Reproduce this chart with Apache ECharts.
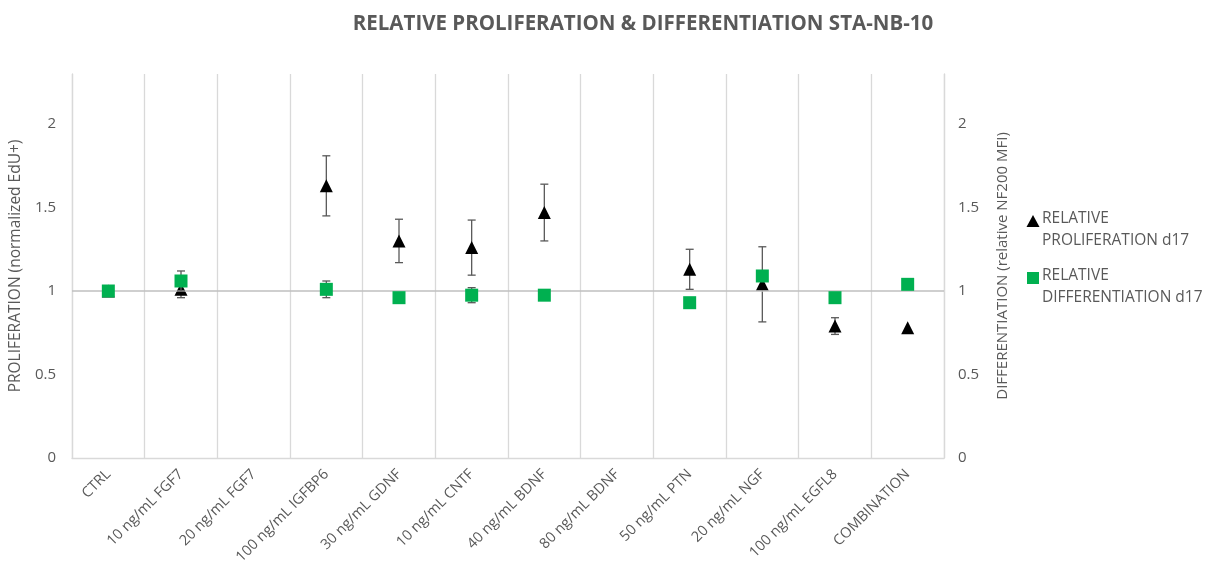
<!DOCTYPE html>
<html>
<head>
<meta charset="utf-8">
<script src="https://cdn.jsdelivr.net/npm/echarts@6/dist/echarts.min.js"></script>
<style>html,body{margin:0;padding:0;background:#fff}#c{width:1208px;height:567px}</style>
</head>
<body>
<div id="c"></div>
<script>
var categories = ['CTRL','10 ng/mL FGF7','20 ng/mL FGF7','100 ng/mL IGFBP6','30 ng/mL GDNF','10 ng/mL CNTF','40 ng/mL BDNF','80 ng/mL BDNF','50 ng/mL PTN','20 ng/mL NGF','100 ng/mL EGFL8','COMBINATION'];
var proliferation = [1.0, 1.01, null, 1.63, 1.30, 1.26, 1.47, null, 1.13, 1.04, 0.79, 0.78];
var proliferationErr = [0, 0.05, null, 0.18, 0.13, 0.165, 0.17, null, 0.12, 0.225, 0.05, 0];
var differentiation = [1.0, 1.06, null, 1.01, 0.96, 0.975, 0.975, null, 0.93, 1.09, 0.96, 1.04];
var differentiationErr = [0, 0.06, null, 0.05, 0, 0.045, 0, null, 0, 0, 0, 0];
var yTicks = [0, 0.5, 1, 1.5, 2];
var legendNames = ['RELATIVE\nPROLIFERATION d17', 'RELATIVE\nDIFFERENTIATION d17'];

var textColor = '#595959';
var font = 'Open Sans';

function errData(vals, errs) {
  var out = [];
  for (var i = 0; i < vals.length; i++) {
    if (vals[i] != null && errs[i]) out.push([i, vals[i] - errs[i], vals[i] + errs[i]]);
  }
  return out;
}
function errRender(params, api) {
  var x = api.value(0);
  var lo = api.coord([x, api.value(1)]);
  var hi = api.coord([x, api.value(2)]);
  var cw = 4;
  var st = {stroke: '#595959', lineWidth: 1.3};
  return {type: 'group', children: [
    {type: 'line', shape: {x1: lo[0], y1: lo[1], x2: hi[0], y2: hi[1]}, style: st},
    {type: 'line', shape: {x1: lo[0]-cw, y1: lo[1], x2: lo[0]+cw, y2: lo[1]}, style: st},
    {type: 'line', shape: {x1: hi[0]-cw, y1: hi[1], x2: hi[0]+cw, y2: hi[1]}, style: st}
  ]};
}

var chart = echarts.init(document.getElementById('c'));
chart.setOption({
  animation: false,
  textStyle: {fontFamily: font},
  title: {
    text: 'RELATIVE PROLIFERATION & DIFFERENTIATION STA-NB-10',
    left: 638, textAlign: 'center', top: 9,
    textStyle: {fontFamily: font, fontSize: 20.5, fontWeight: 'bold', color: textColor}
  },
  grid: {left: 68, right: 264, top: 74, bottom: 109},
  graphic: [
    {type: 'polygon', shape: {points: [[1033, 215], [1039.5, 227], [1026.5, 227]]}, style: {fill: '#000'}},
    {type: 'text', left: 1042, top: 208, style: {text: legendNames[0], fill: textColor, font: '15.5px "Open Sans"', lineHeight: 22}},
    {type: 'rect', shape: {x: 1027, y: 272, width: 12, height: 12}, style: {fill: '#00b050'}},
    {type: 'text', left: 1042, top: 265, style: {text: legendNames[1], fill: textColor, font: '15.5px "Open Sans"', lineHeight: 22}}
  ],
  xAxis: {
    type: 'category', data: categories, boundaryGap: true,
    axisLine: {show: true, lineStyle: {color: '#d9d9d9', width: 1.3}},
    axisTick: {show: false},
    splitLine: {show: true, interval: 0, lineStyle: {color: '#d9d9d9', width: 1.3}},
    axisLabel: {interval: 0, rotate: 45, color: textColor, fontSize: 14.5, margin: 14, fontFamily: font}
  },
  yAxis: [{
    type: 'value', min: 0, max: 2.3, interval: 0.5,
    name: 'PROLIFERATION (normalized EdU+)', nameLocation: 'middle', nameGap: 48,
    nameTextStyle: {color: textColor, fontSize: 15.5, fontFamily: font},
    axisLine: {show: true, lineStyle: {color: '#d9d9d9', width: 1.3}},
    axisTick: {show: false}, splitLine: {show: false},
    axisLabel: {color: textColor, fontSize: 15, margin: 16, showMaxLabel: false,
      formatter: function (v) { return yTicks.indexOf(v) >= 0 ? String(v) : ''; }}
  }, {
    type: 'value', min: 0, max: 2.3, interval: 0.5, position: 'right',
    name: 'DIFFERENTIATION (relative NF200 MFI)', nameLocation: 'middle', nameGap: 51, nameRotate: 90,
    nameTextStyle: {color: textColor, fontSize: 15, fontFamily: font},
    axisLine: {show: true, lineStyle: {color: '#d9d9d9', width: 1.3}},
    axisTick: {show: false}, splitLine: {show: false},
    axisLabel: {color: textColor, fontSize: 15, margin: 14, showMaxLabel: false,
      formatter: function (v) { return yTicks.indexOf(v) >= 0 ? String(v) : ''; }}
  }],
  series: [
    {
      type: 'custom', name: 'errP', yAxisIndex: 0, renderItem: errRender, z: 3,
      data: errData(proliferation, proliferationErr), silent: true
    },
    {
      type: 'scatter', name: 'RELATIVE PROLIFERATION d17', yAxisIndex: 0,
      data: proliferation, symbol: 'triangle', symbolSize: [13, 13],
      itemStyle: {color: '#000000', opacity: 1}, z: 4,
      markLine: {
        silent: true, symbol: 'none', label: {show: false},
        lineStyle: {color: '#bfbfbf', type: 'solid', width: 1.5},
        data: [{yAxis: 1}]
      }
    },
    {
      type: 'custom', name: 'errD', yAxisIndex: 1, renderItem: errRender, z: 5,
      data: errData(differentiation, differentiationErr), silent: true
    },
    {
      type: 'scatter', name: 'RELATIVE DIFFERENTIATION d17', yAxisIndex: 1,
      data: differentiation, symbol: 'rect', symbolSize: [13, 13],
      itemStyle: {color: '#00b050', opacity: 1}, z: 6
    }
  ]
});
</script>
</body>
</html>
